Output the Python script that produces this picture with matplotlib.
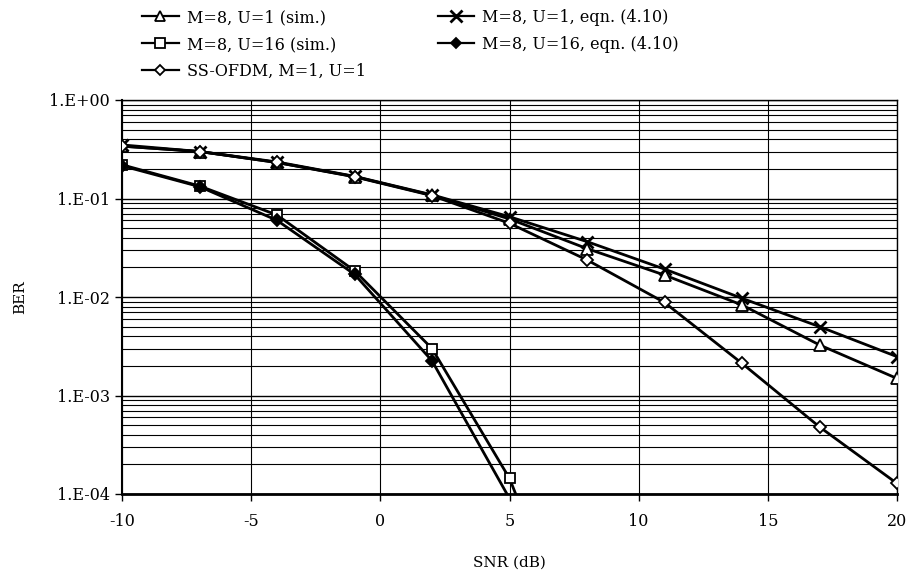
import matplotlib
matplotlib.use("Agg")
import matplotlib.pyplot as plt
from matplotlib.ticker import LogLocator, FixedLocator, NullFormatter
import numpy as np

snr = [-10, -7, -4, -1, 2, 5, 8, 11, 14, 17, 20]
ber_u1_sim = [0.34, 0.30, 0.232, 0.167, 0.108, 0.062, 0.031, 0.0167, 0.0083, 0.00326, 0.00149]
ber_u1_eqn = [0.35, 0.30, 0.235, 0.168, 0.109, 0.0653, 0.0365, 0.0192, 0.0097, 0.0050, 0.00248]
ber_ss_ofdm = [0.34, 0.30, 0.232, 0.166, 0.107, 0.056, 0.0238, 0.0088, 0.00212, 0.00048, 0.000128]

snr_u16_sim = [-10, -7, -4, -1, 2, 5, 8]
ber_u16_sim = [0.22, 0.134, 0.068, 0.0185, 0.0030, 0.000144, 1.5e-6]
snr_u16_eqn = [-10, -7, -4, -1, 2, 5]
ber_u16_eqn = [0.215, 0.132, 0.060, 0.017, 0.00225, 9e-5]

ytick_vals = [1e0, 1e-1, 1e-2, 1e-3, 1e-4]
ytick_labels = ["1.E+00", "1.E-01", "1.E-02", "1.E-03", "1.E-04"]
xtick_vals = [-10, -5, 0, 5, 10, 15, 20]

plt.rcParams["font.family"] = ["DejaVu Serif"]
plt.rcParams["axes.unicode_minus"] = False

W, H = 909, 572
fig = plt.figure(figsize=(W / 100, H / 100), dpi=100)
ax = fig.add_axes([122 / W, 1 - 494 / H, (897 - 122) / W, (494 - 100) / H])

ymin = 1e-4


def series(x, y, marker, face, ms, label, mew=1.3):
    x = np.asarray(x)
    y = np.asarray(y)
    ax.plot(x, y, "-", color="black", lw=2.0, zorder=3)
    # markers only where the point lies inside the plotted range
    vis = y >= ymin
    ax.plot(x[vis], y[vis], linestyle="none", marker=marker, ms=ms,
            mfc=face, mec="black", mew=mew, zorder=4)
    return plt.Line2D([], [], color="black", lw=1.6, marker=marker, ms=ms - 1,
                      mfc=face, mec="black", mew=mew, label=label)


h_tri = series(snr, ber_u1_sim, "^", "white", 8, "M=8, U=1 (sim.)")
h_x = series(snr, ber_u1_eqn, "x", "black", 9, "M=8, U=1, eqn. (4.10)", mew=2)
h_sq = series(snr_u16_sim, ber_u16_sim, "s", "white", 7.5, "M=8, U=16 (sim.)")
h_fd = series(snr_u16_eqn, ber_u16_eqn, "D", "black", 6.5, "M=8, U=16, eqn. (4.10)")
h_d = series(snr, ber_ss_ofdm, "D", "white", 6.5, "SS-OFDM, M=1, U=1")

ax.set_yscale("log")
ax.set_ylim(1e-4, 1e0)
ax.set_xlim(-10, 20)
ax.yaxis.set_major_locator(FixedLocator(ytick_vals))
ax.set_yticklabels(ytick_labels)
ax.yaxis.set_minor_locator(LogLocator(base=10, subs=np.arange(2, 10)))
ax.yaxis.set_minor_formatter(NullFormatter())
ax.set_xticks(xtick_vals)

ax.grid(True, which="major", axis="y", color="black", lw=1.0)
ax.grid(True, which="minor", axis="y", color="black", lw=0.8)
ax.grid(True, which="major", axis="x", color="black", lw=0.8)
ax.tick_params(axis="y", which="minor", length=0)
ax.tick_params(axis="both", which="major", direction="out", length=5,
               width=1, labelsize=11.5, colors="black")
ax.tick_params(axis="x", pad=9)
for s in ax.spines.values():
    s.set_color("black")
    s.set_linewidth(1.0)
ax.spines["bottom"].set_linewidth(2.0)
ax.spines["left"].set_linewidth(1.5)

ax.set_xlabel("SNR (dB)", fontsize=11, labelpad=18)
ax.set_ylabel("BER", fontsize=11)
ax.yaxis.set_label_coords(-0.122, 0.5)

fig.legend(handles=[h_tri, h_sq, h_d, h_x, h_fd], ncol=2, frameon=False,
           loc="upper left", bbox_to_anchor=(142 / W, 1 - 9 / H),
           fontsize=11.5, borderpad=0, borderaxespad=0, handlelength=2.3,
           handletextpad=0.5, columnspacing=4.5, labelspacing=0.62)

fig.savefig("out.png", dpi=100)
